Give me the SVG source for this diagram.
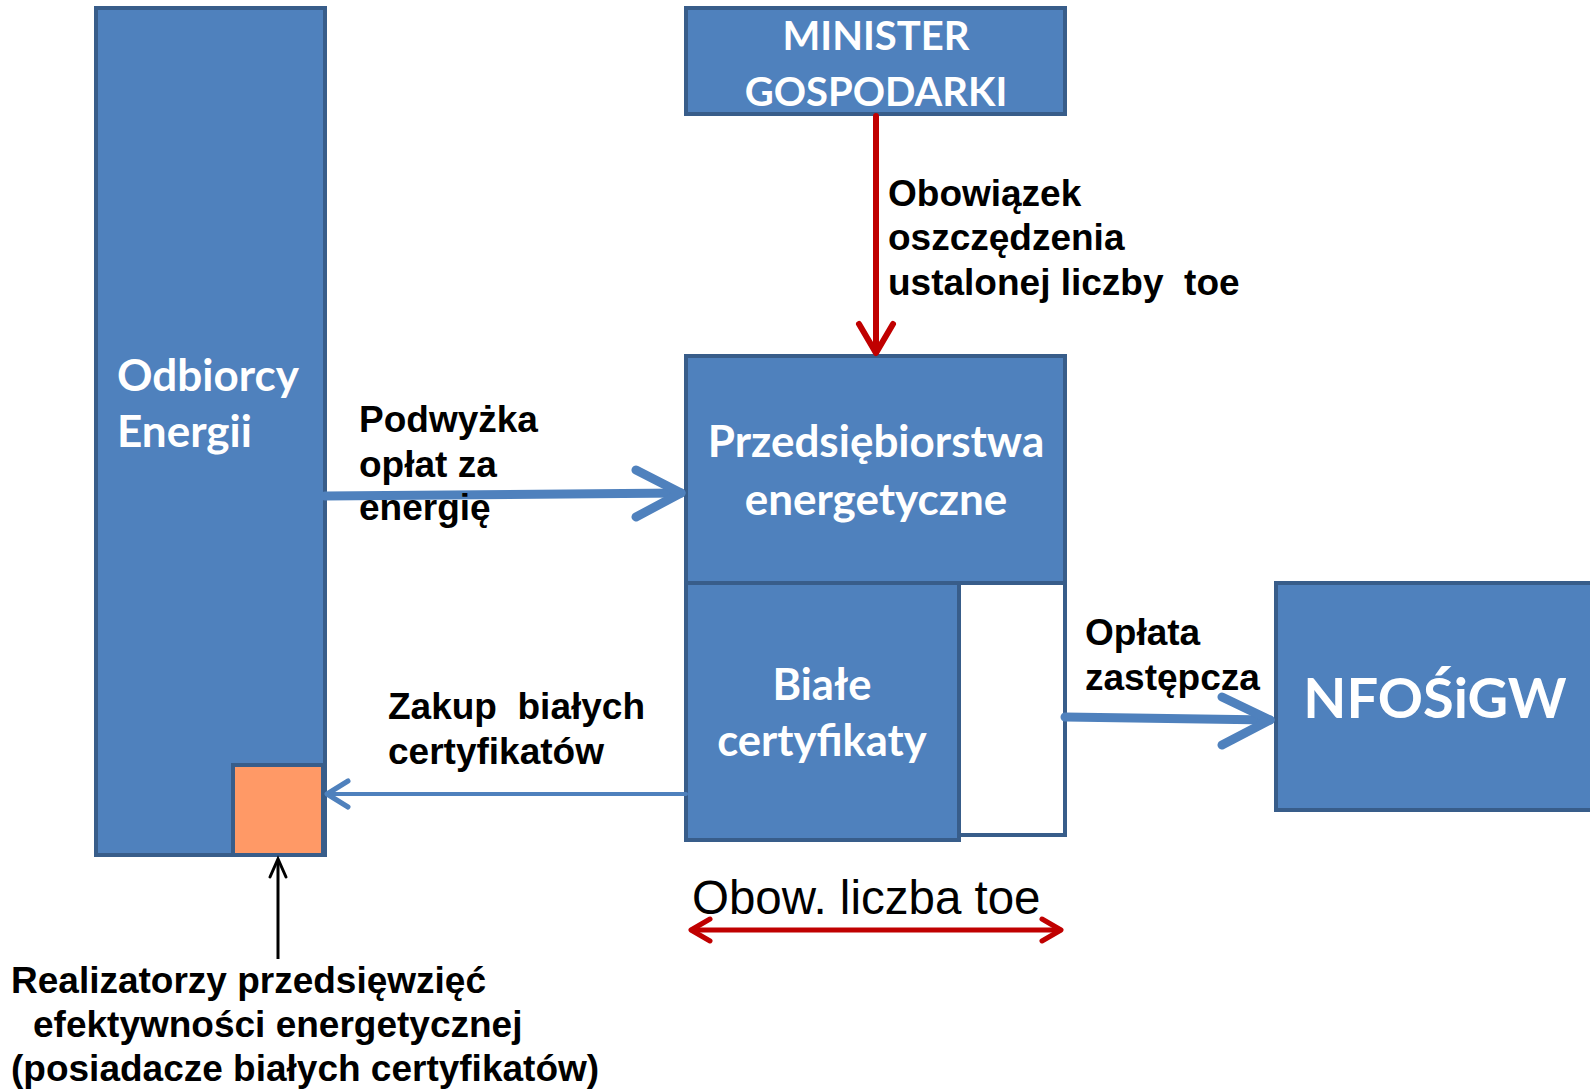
<svg xmlns="http://www.w3.org/2000/svg" width="1590" height="1089" viewBox="0 0 1590 1089">
<style>
.box{fill:#4F81BD;stroke:#385D8A;stroke-width:4}
.wbox{fill:#FFFFFF;stroke:#385D8A;stroke-width:4}
.btxt{font-family:Lato,"Open Sans",sans-serif;font-weight:bold;fill:#FFFFFF}
.lbl{font-family:"Liberation Sans",Arial,sans-serif;font-weight:bold;font-size:37px;fill:#000000}
.blue{fill:none;stroke:#4F81BD;stroke-linecap:round;stroke-linejoin:round}
.red{fill:none;stroke:#C00000;stroke-linecap:round;stroke-linejoin:round}
</style>
<rect width="1590" height="1089" fill="#FFFFFF"/>
<g id="odbiorcy">
<rect class="box" x="96" y="8" width="229" height="847"/>
<text class="btxt" font-size="44" x="117" y="391">Odbiorcy</text>
<text class="btxt" font-size="44" x="117" y="447">Energii</text>
</g>
<g id="realizatorzy-square">
<rect x="233" y="765" width="90" height="90" fill="#FF9966" stroke="#385D8A" stroke-width="4"/>
</g>
<g id="minister">
<rect class="box" x="686" y="8" width="379" height="106"/>
<text class="btxt" font-size="40" x="876" y="50" text-anchor="middle">MINISTER</text>
<text class="btxt" font-size="40" x="876" y="106" text-anchor="middle">GOSPODARKI</text>
</g>
<g id="przedsiebiorstwa">
<rect class="box" x="686" y="356" width="379" height="227"/>
<text class="btxt" font-size="44" x="876" y="457" text-anchor="middle">Przedsiębiorstwa</text>
<text class="btxt" font-size="44" x="876" y="515" text-anchor="middle">energetyczne</text>
</g>
<g id="luka">
<rect class="wbox" x="959" y="583" width="106" height="252"/>
</g>
<g id="biale">
<rect class="box" x="686" y="583" width="273" height="257"/>
<text class="btxt" font-size="43.5" x="822" y="700" text-anchor="middle">Białe</text>
<text class="btxt" font-size="43.5" x="822" y="756" text-anchor="middle">certyfikaty</text>
</g>
<g id="nfosigw">
<rect class="box" x="1276" y="583" width="330" height="227"/>
<text class="btxt" font-size="56" x="1435" y="718" text-anchor="middle">NFOŚiGW</text>
</g>
<g id="connectors">
<path class="red" stroke-width="6" d="M876,116 V352"/>
<path class="red" stroke-width="6" d="M859,324 L876,353 L893,324"/>
<path class="blue" stroke-width="9" d="M325,496 L681,493"/>
<path class="blue" stroke-width="9" d="M636,470 L681,493 L636,517"/>
<path class="blue" stroke-width="9" d="M1065,717 L1270,720"/>
<path class="blue" stroke-width="9" d="M1222,697 L1270,720 L1222,745"/>
<path class="blue" stroke-width="4" d="M686,794 L327,794"/>
<path class="blue" stroke-width="5" d="M348,781 L327,794 L348,807"/>
<path fill="none" stroke="#000000" stroke-width="3" d="M278,959 V860"/>
<path fill="none" stroke="#000000" stroke-width="3" stroke-linecap="round" d="M270,877 L278,859 L286,877"/>
<path class="red" stroke-width="5" d="M692,930 H1060"/>
<path class="red" stroke-width="5" d="M710,919 L691,930 L710,941"/>
<path class="red" stroke-width="5" d="M1042,919 L1061,930 L1042,941"/>
</g>
<g id="labels">
<text class="lbl" x="888" y="206">Obowiązek</text>
<text class="lbl" x="888" y="250">oszczędzenia</text>
<text class="lbl" x="888" y="295" xml:space="preserve">ustalonej liczby  toe</text>
<text class="lbl" x="359" y="432">Podwyżka</text>
<text class="lbl" x="359" y="477">opłat za</text>
<text class="lbl" x="359" y="520">energię</text>
<text class="lbl" x="388" y="719" xml:space="preserve">Zakup  białych</text>
<text class="lbl" x="388" y="764">certyfikatów</text>
<text class="lbl" x="1085" y="645">Opłata</text>
<text class="lbl" x="1085" y="690">zastępcza</text>
<text font-family="'Liberation Sans',Arial,sans-serif" font-size="47.5" x="692" y="914">Obow. liczba toe</text>
<text class="lbl" x="11" y="993">Realizatorzy przedsięwzięć</text>
<text class="lbl" x="33" y="1037">efektywności energetycznej</text>
<text class="lbl" x="11" y="1081">(posiadacze białych certyfikatów)</text>
</g>
</svg>
